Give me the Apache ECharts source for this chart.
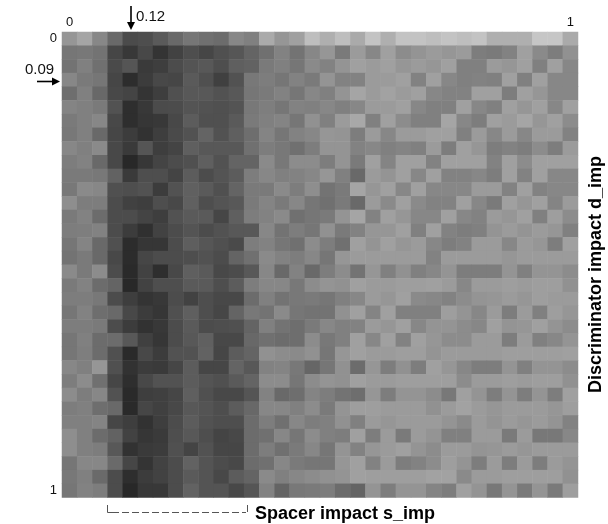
<!DOCTYPE html>
<html><head><meta charset="utf-8">
<style>html,body{margin:0;padding:0;background:#fff}#c{width:608px;height:524px}</style>
<script src="https://cdn.jsdelivr.net/npm/echarts@6/dist/echarts.min.js"></script>
</head><body><div id="c"></div>
<script>
const xTicks = ['0', '1'];
const yTicks = ['0', '1'];
const xTitle = 'Spacer impact s_imp';
const yTitle = 'Discriminator impact d_imp';
const leftCols = [
[150,165,135,105,75,78,90,105,118,112,108,135,128,170,150,160],
[118,120,115,70,56,72,52,66,78,70,80,86,100,112,130,115],
[115,128,112,74,85,58,62,76,84,88,78,95,98,122,128,118],
[135,122,118,70,45,60,72,70,90,80,64,82,120,125,118,130],
[110,128,104,72,68,52,62,80,88,88,82,88,118,122,130,118],
[132,128,122,82,46,56,75,76,84,82,80,84,120,126,118,130],
[122,128,135,72,46,54,56,72,92,80,80,90,122,128,132,118],
[120,128,105,70,60,50,62,74,82,100,82,95,110,132,118,130],
[135,128,138,72,58,85,62,68,95,88,88,88,112,125,120,112],
[125,130,105,72,40,55,68,76,80,95,82,100,100,138,120,140],
[122,122,120,98,58,78,78,68,92,76,84,92,125,135,128,130],
[120,138,135,80,78,82,60,82,96,90,80,100,122,122,138,125],
[142,125,125,76,65,62,78,72,96,78,84,88,122,132,122,135],
[122,130,108,76,76,68,62,82,90,90,70,95,125,130,138,112],
[125,126,130,76,60,48,66,76,84,76,82,88,88,135,115,125],
[118,132,105,80,44,54,54,76,94,86,80,74,125,130,118,112],
[115,122,105,72,44,70,76,76,78,82,76,100,112,138,130,125],
[138,122,140,76,42,66,46,72,95,90,72,76,88,135,105,130],
[122,130,108,100,40,66,78,78,90,90,78,92,125,135,135,120],
[125,125,120,76,62,52,56,76,66,78,72,72,108,128,115,120],
[118,130,110,105,72,60,54,80,95,78,70,100,120,115,138,118],
[125,125,122,76,60,50,56,76,90,76,78,80,100,128,115,110],
[118,128,108,108,88,64,54,76,88,96,72,72,104,112,108,110],
[118,126,108,80,42,72,60,82,82,98,70,92,100,145,140,138],
[135,128,150,80,50,60,58,70,92,70,70,100,88,130,132,120],
[125,140,112,70,46,72,82,82,92,84,80,90,100,140,140,118],
[140,125,135,82,42,62,64,70,95,80,72,72,85,130,105,110],
[125,128,110,105,42,70,64,72,88,84,78,92,104,135,135,128],
[128,128,132,70,62,50,62,76,92,82,78,78,108,125,112,135],
[142,128,108,98,66,54,58,78,88,78,68,72,108,112,135,118],
[142,128,125,88,50,58,60,80,68,82,70,70,108,125,112,122],
[118,135,135,106,70,52,66,76,98,84,76,72,108,112,135,122],
[120,128,106,76,46,60,66,76,90,84,72,92,100,138,128,135],
[118,130,125,76,40,56,56,76,98,84,84,72,85,130,100,120]
];
const rightCols = [
[190,175,190,170,195,175,195,195,190,195,190,195,175,175,175,198,198,170],
[135,150,122,155,135,160,140,148,155,150,155,125,122,130,160,138,125,145],
[138,130,148,160,155,160,150,155,150,160,128,128,155,150,160,128,160,135],
[122,148,130,130,155,155,160,130,160,135,128,130,128,160,128,160,135,135],
[135,128,148,165,155,162,155,160,135,130,130,160,160,125,160,150,135,135],
[128,135,128,135,155,155,160,135,128,128,160,135,128,160,150,160,135,160],
[145,128,155,168,128,160,140,128,128,165,135,125,160,155,165,150,160,140],
[135,150,148,125,155,135,155,155,160,160,128,155,135,155,135,155,155,130],
[125,148,148,130,135,128,132,128,155,125,160,150,125,130,125,140,125,155],
[140,125,148,122,160,132,160,160,130,160,160,160,130,160,140,160,160,160],
[135,150,128,105,155,148,160,135,160,130,130,135,125,160,130,160,135,135],
[142,115,122,165,150,160,135,160,135,135,135,155,155,130,160,130,135,135],
[118,112,122,105,155,138,160,138,130,130,160,135,122,160,150,160,132,155],
[118,122,148,165,130,160,150,135,135,160,135,130,155,150,160,128,158,140],
[118,145,122,130,150,150,160,128,160,130,125,128,148,155,148,155,150,128],
[140,125,112,160,148,160,150,155,135,125,130,155,155,135,155,150,125,160],
[135,118,150,155,155,155,155,155,130,155,155,155,155,150,155,155,155,155],
[105,125,140,115,150,128,145,128,135,148,125,125,125,148,128,148,148,140],
[140,148,145,160,155,155,158,158,160,155,135,155,155,158,155,158,158,145],
[122,118,128,135,155,150,160,138,135,130,140,148,150,155,150,158,155,155],
[115,115,145,160,132,160,128,128,128,158,148,135,155,125,155,128,158,150],
[122,135,128,130,155,150,160,135,148,148,140,135,160,148,150,160,148,140],
[140,120,128,160,135,160,130,160,150,140,140,155,155,125,155,128,135,148],
[145,118,150,160,155,155,158,158,148,155,155,155,155,158,158,158,158,160],
[102,118,145,108,150,125,145,125,160,150,135,125,125,148,128,148,148,140],
[140,148,145,160,155,155,158,158,158,158,140,155,155,158,155,158,158,145],
[132,125,115,110,150,125,148,148,140,120,160,148,125,148,125,148,125,160],
[140,122,148,158,158,155,155,155,145,155,162,155,150,155,155,155,150,158],
[125,128,145,128,155,150,155,155,155,148,138,155,148,155,150,155,148,130],
[140,128,125,160,125,155,122,155,148,128,128,155,155,122,155,120,120,135],
[135,118,148,130,150,155,160,148,140,155,155,148,150,155,150,155,155,155],
[118,118,150,160,130,155,125,130,140,158,148,125,155,125,155,125,155,148],
[140,145,148,160,158,158,158,158,162,162,138,155,155,158,158,158,158,145],
[122,125,108,100,148,125,148,148,132,125,160,148,120,148,122,148,122,158]
];
const rows = leftCols.map((r, i) => r.concat(rightCols[i]));
const sImp = rows[0].map((_, i) => String(i));
const dImp = rows.map((_, i) => String(i));
const cells = [];
rows.forEach((r, y) => r.forEach((v, x) => cells.push([x, y, v])));

const font = '"Liberation Sans", Arial, sans-serif';
const chart = echarts.init(document.getElementById('c'), null, {renderer: 'canvas'});
const axisBase = {
  type: 'category',
  axisLine: {show: false}, axisTick: {show: false}, splitLine: {show: false}, splitArea: {show: false},
};
chart.setOption({
  animation: false,
  backgroundColor: '#fff',
  grid: {left: 62, top: 32, width: 516, height: 465.5, containLabel: false},
  xAxis: Object.assign({}, axisBase, {
    position: 'top', data: sImp,
    axisLabel: {interval: 0, margin: 3, fontFamily: font, fontSize: 13, color: '#111',
      formatter: (v, i) => i === 0 ? xTicks[0] : i === sImp.length - 1 ? xTicks[1] : ''}
  }),
  yAxis: Object.assign({}, axisBase, {
    inverse: true, data: dImp,
    axisLabel: {interval: 0, margin: 5, fontFamily: font, fontSize: 13, color: '#111',
      formatter: (v, i) => i === 0 ? yTicks[0] : i === dImp.length - 1 ? yTicks[1] : ''}
  }),
  visualMap: {show: false, min: 0, max: 255, dimension: 2, inRange: {color: ['#000000', '#ffffff']}},
  series: [{type: 'heatmap', data: cells, itemStyle: {borderWidth: 0}, emphasis: {disabled: true}}],
  graphic: [
    {type: 'text', left: 255, top: 505, style: {text: xTitle, font: 'bold 18px ' + font, fill: '#000'}},
    {type: 'text', rotation: Math.PI / 2, x: 587, y: 393, style: {text: yTitle, font: 'bold 18px ' + font, fill: '#000'}},
    {type: 'text', x: 136, y: 9, style: {text: '0.12', font: '15px ' + font, fill: '#111'}},
    {type: 'text', x: 25, y: 62, style: {text: '0.09', font: '15px ' + font, fill: '#111'}},
    {type: 'line', shape: {x1: 131, y1: 6, x2: 131, y2: 24}, style: {stroke: '#000', lineWidth: 1.6}},
    {type: 'polygon', shape: {points: [[127, 22], [135, 22], [131, 30]]}, style: {fill: '#000'}},
    {type: 'line', shape: {x1: 37, y1: 81.5, x2: 54, y2: 81.5}, style: {stroke: '#000', lineWidth: 1.6}},
    {type: 'polygon', shape: {points: [[52, 77.5], [52, 85.5], [60, 81.5]]}, style: {fill: '#000'}},
    {type: 'polyline', shape: {points: [[107.5, 505], [107.5, 512.5], [112, 512.5]]}, style: {stroke: '#555', lineWidth: 1, fill: null}},
    {type: 'line', shape: {x1: 112, y1: 512.5, x2: 246, y2: 512.5}, style: {stroke: '#555', lineWidth: 1, lineDash: [7, 3]}},
    {type: 'line', shape: {x1: 247.5, y1: 505, x2: 247.5, y2: 512}, style: {stroke: '#555', lineWidth: 1}}
  ]
});
</script></body></html>
